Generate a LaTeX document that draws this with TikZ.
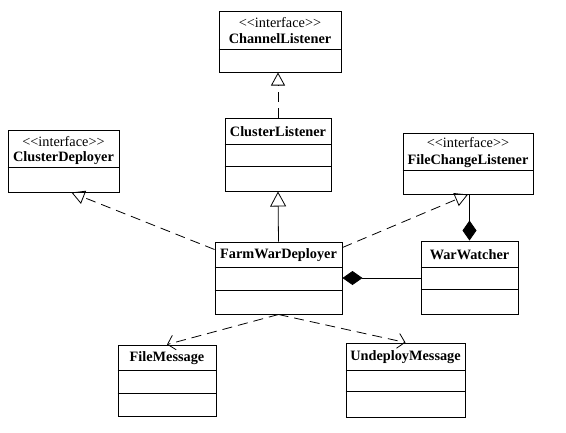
\documentclass[tikz,border=0pt]{standalone}
\usepackage{fontspec}
\setmainfont{Liberation Serif}
\newfontfamily\stereofont{Liberation Serif}
\usetikzlibrary{arrows.meta}

\newcommand{\umldiv}[2]{\draw[line width=0.9pt] ([yshift=-#2pt]#1.north west) -- ([yshift=-#2pt]#1.north east);}

\tikzset{
  umlbox/.style={draw, line width=1pt, inner sep=0pt},
  nametxt/.style={inner sep=0pt, font=\fontsize{14.3}{16}\selectfont\bfseries},
  stereotxt/.style={inner sep=0pt, font=\fontsize{14.3}{16}\selectfont\stereofont},
  realize/.style={line width=0.8pt, dash pattern=on 10pt off 6pt, -{Triangle[open,length=13pt,width=14pt]}},
  inherit/.style={line width=0.8pt, -{Triangle[open,length=15pt,width=16pt]}},
  depend/.style={line width=0.8pt, dash pattern=on 10pt off 6pt, -{Straight Barb[length=7pt,width=15pt]}},
  compose/.style={line width=0.8pt, {Diamond[length=20pt,width=14pt]}-}
}

\begin{document}
\begin{tikzpicture}[x=1pt,y=-1pt]
\useasboundingbox[fill=white] (0,0) rectangle (566,432);

% class boxes
\node[umlbox, minimum width=122pt, minimum height=61pt] (channel) at (280,41.5) {};
\node[umlbox, minimum width=106pt, minimum height=73pt] (clusterL) at (278,154.5) {};
\node[umlbox, minimum width=111pt, minimum height=62pt] (clusterD) at (63.5,161) {};
\node[umlbox, minimum width=130pt, minimum height=61pt] (fileCL) at (468,163.5) {};
\node[umlbox, minimum width=127pt, minimum height=72pt] (farm) at (278.5,278) {};
\node[umlbox, minimum width=97pt, minimum height=73pt] (war) at (469.5,277.5) {};
\node[umlbox, minimum width=98pt, minimum height=71pt] (fileMsg) at (167,380.5) {};
\node[umlbox, minimum width=119pt, minimum height=74pt] (undeploy) at (405.5,380) {};

% compartments
\umldiv{channel}{39}
\umldiv{clusterL}{27} \umldiv{clusterL}{49}
\umldiv{clusterD}{38}
\umldiv{fileCL}{38}
\umldiv{farm}{26} \umldiv{farm}{49}
\umldiv{war}{27} \umldiv{war}{49}
\umldiv{fileMsg}{26} \umldiv{fileMsg}{49}
\umldiv{undeploy}{28} \umldiv{undeploy}{49}

% names
\node[stereotxt] (channelStereo) at (280,23) {<<interface>>};
\node[nametxt] (channelName) at (280,39) {ChannelListener};
\node[nametxt] (clusterLName) at (278,132) {ClusterListener};
\node[stereotxt] (clusterDStereo) at (63.5,142) {<<interface>>};
\node[nametxt] (clusterDName) at (63.5,158) {ClusterDeployer};
\node[stereotxt] (fileCLStereo) at (468,143) {<<interface>>};
\node[nametxt] (fileCLName) at (468,161) {FileChangeListener};
\node[nametxt] (farmName) at (278.5,255) {FarmWarDeployer};
\node[nametxt] (warName) at (469.5,255) {WarWatcher};
\node[nametxt] (fileMsgName) at (167,358) {FileMessage};
\node[nametxt] (undeployName) at (405.5,357) {UndeployMessage};

% relations
\draw[realize] (clusterL.north) -- (clusterL.north |- channel.south);
\draw[inherit] (farm.north) -- (clusterL.south);
\draw[realize] ([yshift=-8pt]farm.north west) -- ([xshift=8pt]clusterD.south);
\draw[realize] ([yshift=-6pt]farm.north east) -- (fileCL.south);
\draw[compose] (war.north) -- (war.north |- fileCL.south);
\draw[compose] (farm.east) -- (farm.east -| war.west);
\draw[depend] (farm.south) -- (fileMsg.north);
\draw[depend] (farm.south) -- (undeploy.north);
\end{tikzpicture}
\end{document}
